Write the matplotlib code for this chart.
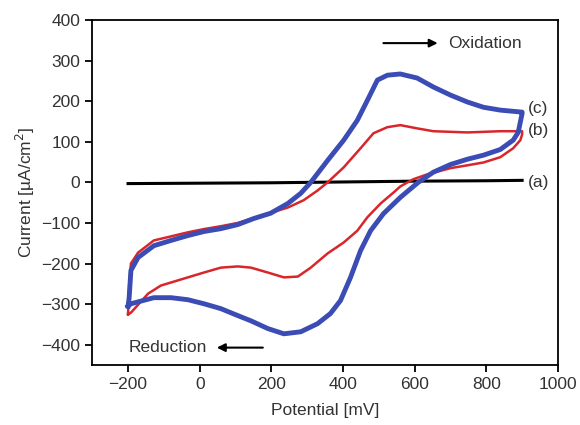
import matplotlib
matplotlib.use("Agg")
import matplotlib.pyplot as plt

plt.rcParams['font.family'] = ['Liberation Sans', 'DejaVu Sans']

# (a) bare electrode - flat line
a_x = [-200, 0, 200, 400, 600, 800, 900]
a_y = [-3, -2, -1, 1, 3, 4, 5]

# (b) red CV loop: forward (oxidation) then reverse (reduction)
b_x = [-200, -197, -192, -172, -128, -80, -33, 12, 59, 106, 151, 198, 246, 290, 329, 357, 402, 449, 485, 524, 560,
       607, 652, 747, 839, 900,
       900, 895, 875, 839, 792, 747, 700, 636, 597, 580, 560, 541, 505, 468, 440, 402, 357, 310, 274, 235, 190, 143,
       106, 59, 12, -33, -108, -144, -192, -200]
b_y = [-325, -255, -200, -173, -143, -133, -123, -115, -108, -100, -88, -75, -62, -44, -20, 0, 37, 84, 121, 136, 141,
       133, 126, 123, 126, 126,
       118, 104, 84, 62, 49, 42, 35, 20, 8, 0, -10, -25, -52, -86, -119, -148, -175, -210, -232, -234, -222, -210,
       -207, -210, -222, -234, -254, -274, -321, -325]

# (c) blue CV loop
c_x = [-200, -197, -192, -172, -128, -80, -33, 12, 59, 106, 151, 198, 246, 282, 310, 357, 402, 440, 468, 496, 524, 560,
       607, 652, 700, 747, 792, 839, 900,
       900, 889, 875, 839, 792, 747, 700, 652, 610, 560, 513, 477, 449, 421, 393, 365, 329, 282, 235, 190, 143, 106, 59,
       12, -33, -80, -128, -192, -200]
c_y = [-305, -285, -217, -185, -156, -143, -131, -121, -114, -104, -89, -76, -52, -27, 0, 54, 104, 153, 202, 252, 264, 267,
       257, 235, 215, 198, 185, 178, 173,
       170, 123, 104, 81, 67, 57, 44, 25, 0, -37, -77, -119, -168, -234, -291, -323, -348, -368, -373, -360, -341, -328, -311,
       -299, -289, -284, -284, -299, -305]

xticks = [-200, 0, 200, 400, 600, 800, 1000]
yticks = [-400, -300, -200, -100, 0, 100, 200, 300, 400]

txt = '#333333'
fs = 12.5
fig = plt.figure(figsize=(5.8, 4.25), dpi=100)
ax = fig.add_axes([0.159, 0.141, 0.803, 0.812])

ax.plot(a_x, a_y, color='black', lw=2.2)
ax.plot(b_x, b_y, color='#d8262b', lw=1.8)
ax.plot(c_x, c_y, color='#3b4cb4', lw=3.5)

ax.set_xlim(-300, 1000)
ax.set_ylim(-450, 400)
ax.set_xticks(xticks)
ax.set_yticks(yticks)
ax.tick_params(direction='out', length=5, width=1.3, labelsize=fs, labelcolor=txt,
               color='black', top=False, right=False)
for s in ax.spines.values():
    s.set_linewidth(1.3)

ax.set_xlabel('Potential [mV]', fontsize=fs, color=txt, labelpad=8)
ax.set_ylabel('Current [µA/cm$^2$]', fontsize=fs, color=txt, labelpad=3)

# scan direction arrows
ax.annotate('', xy=(672, 343), xytext=(505, 343),
            arrowprops=dict(arrowstyle='-|>', color='black', lw=1.5, mutation_scale=12))
ax.text(694, 343, 'Oxidation', fontsize=fs, color=txt, va='center', ha='left')
ax.annotate('', xy=(40, -407), xytext=(184, -407),
            arrowprops=dict(arrowstyle='-|>', color='black', lw=1.5, mutation_scale=12))
ax.text(20, -407, 'Reduction', fontsize=fs, color=txt, va='center', ha='right')

# curve labels
ax.text(915, 182, '(c)', fontsize=fs, color=txt, va='center')
ax.text(915, 128, '(b)', fontsize=fs, color=txt, va='center')
ax.text(915, 0, '(a)', fontsize=fs, color=txt, va='center')

fig.savefig('out.png', dpi=100, facecolor='white')
